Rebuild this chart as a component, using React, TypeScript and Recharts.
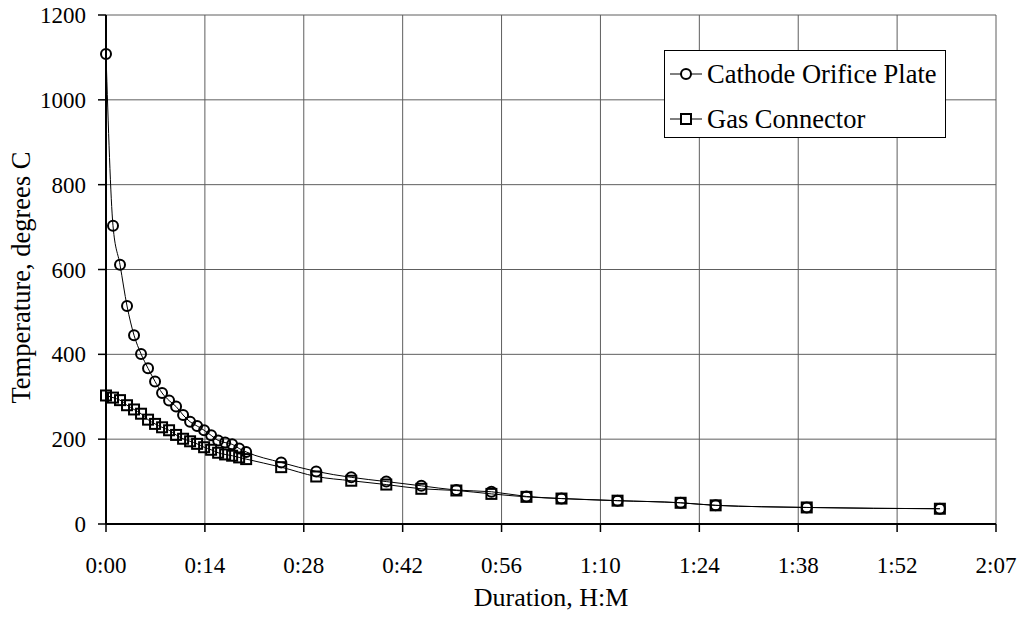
import React from 'react'
import {
  LineChart,
  Line,
  XAxis,
  YAxis,
  CartesianGrid,
} from 'recharts'

// elapsed time in minutes
const TIME_MIN = [
  0, 1, 2, 3, 4, 5, 6, 7, 8, 9, 10, 11, 12, 13, 14, 15, 16, 17, 18, 19, 20,
  25, 30, 35, 40, 45, 50, 55, 60, 65, 73, 82, 87, 100, 119,
]

const CATHODE_ORIFICE = [
  1108, 703, 611, 514, 445, 401, 367, 336, 309, 291, 277, 257, 241, 231, 221,
  209, 197, 192, 188, 178, 170, 145, 124, 110, 100, 90, 80, 76, 65, 60, 55, 50,
  44, 39, 36,
]

const GAS_CONNECTOR = [
  303, 298, 292, 280, 270, 260, 246, 236, 228, 221, 210, 201, 195, 189, 181,
  175, 168, 164, 161, 157, 153, 134, 112, 102, 93, 83, 79, 71, 64, 60, 55, 50,
  44, 39, 36,
]

// Excel major unit of 0.0098 days, shown as H:MM
const X_TICKS = [0, 14.112, 28.224, 42.336, 56.448, 70.56, 84.672, 98.784, 112.896, 127.008]
const X_TICK_LABELS = ['0:00', '0:14', '0:28', '0:42', '0:56', '1:10', '1:24', '1:38', '1:52', '2:07']
const Y_TICKS = [0, 200, 400, 600, 800, 1000, 1200]

const SERIES_NAMES = ['Cathode Orifice Plate', 'Gas Connector']

const FONT = '"Liberation Serif", "Times New Roman", serif'

const data = TIME_MIN.map((t, i) => ({
  t,
  cathode: CATHODE_ORIFICE[i],
  gas: GAS_CONNECTOR[i],
}))

const SquareDot = (props: any) => {
  const { cx, cy, index } = props
  if (cx == null || cy == null) return null
  return (
    <rect
      key={`sq-${index}`}
      x={cx - 5}
      y={cy - 5}
      width={10}
      height={10}
      fill="none"
      stroke="#000"
      strokeWidth={2}
    />
  )
}

const LegendBox = () => (
  <svg width={282} height={88} style={{ display: 'block' }}>
    <rect x={0.5} y={0.5} width={281} height={87} fill="#fff" stroke="#000" strokeWidth={1} />
    {SERIES_NAMES.map((name, i) => {
      const y = 24 + i * 45
      return (
        <g key={name}>
          <line x1={6} x2={38} y1={y} y2={y} stroke="#000" strokeWidth={1} />
          {i === 0 ? (
            <circle cx={22} cy={y} r={5} fill="#fff" stroke="#000" strokeWidth={2} />
          ) : (
            <rect x={17} y={y - 5} width={10} height={10} fill="#fff" stroke="#000" strokeWidth={2} />
          )}
          <text x={43} y={y + 9} fontFamily={FONT} fontSize={26.5} fill="#000">
            {name}
          </text>
        </g>
      )
    })}
  </svg>
)

export default function App() {
  return (
    <div style={{ position: 'absolute', left: 0, top: 0, width: 1021, height: 625, background: '#fff' }}>
      <LineChart
        width={1021}
        height={625}
        data={data}
        margin={{ top: 15, right: 25, left: 0, bottom: 0 }}
      >
        <CartesianGrid stroke="#5e5e5e" strokeWidth={1} />
        <XAxis
          dataKey="t"
          type="number"
          domain={[0, 127.008]}
          ticks={X_TICKS}
          tickFormatter={(v: number) => X_TICK_LABELS[X_TICKS.indexOf(v)] ?? ''}
          height={101}
          tickSize={8}
          tickMargin={25}
          interval={0}
          axisLine={{ stroke: '#000', strokeWidth: 2 }}
          tickLine={{ stroke: '#000', strokeWidth: 1.5 }}
          tick={{ fill: '#000', fontSize: 23, fontFamily: FONT }}
          label={(props: any) => {
            const vb = props.viewBox
            return (
              <text
                x={vb.x + vb.width / 2}
                y={vb.y + 82}
                textAnchor="middle"
                fontFamily={FONT}
                fontSize={26}
                fill="#000"
              >
                Duration, H:M
              </text>
            )
          }}
        />
        <YAxis
          type="number"
          domain={[0, 1200]}
          ticks={Y_TICKS}
          width={106}
          tickSize={8}
          tickMargin={12}
          interval={0}
          axisLine={{ stroke: '#000', strokeWidth: 2 }}
          tickLine={{ stroke: '#000', strokeWidth: 1.5 }}
          tick={{ fill: '#000', fontSize: 23, fontFamily: FONT }}
          label={(props: any) => {
            const vb = props.viewBox
            const cy = vb.y + vb.height / 2 + 8
            return (
              <text
                x={vb.x + 30}
                y={cy}
                transform={`rotate(-90, ${vb.x + 30}, ${cy})`}
                textAnchor="middle"
                fontFamily={FONT}
                fontSize={26.5}
                fill="#000"
              >
                Temperature, degrees C
              </text>
            )
          }}
        />
        <Line
          type="monotone"
          dataKey="cathode"
          name={SERIES_NAMES[0]}
          stroke="#000"
          strokeWidth={1}
          dot={{ r: 5, stroke: '#000', strokeWidth: 2, fill: 'none' }}
          activeDot={false}
          isAnimationActive={false}
        />
        <Line
          type="monotone"
          dataKey="gas"
          name={SERIES_NAMES[1]}
          stroke="#000"
          strokeWidth={1}
          dot={<SquareDot />}
          activeDot={false}
          isAnimationActive={false}
        />
      </LineChart>
      <div style={{ position: 'absolute', left: 664, top: 50 }}>
        <LegendBox />
      </div>
    </div>
  )
}
